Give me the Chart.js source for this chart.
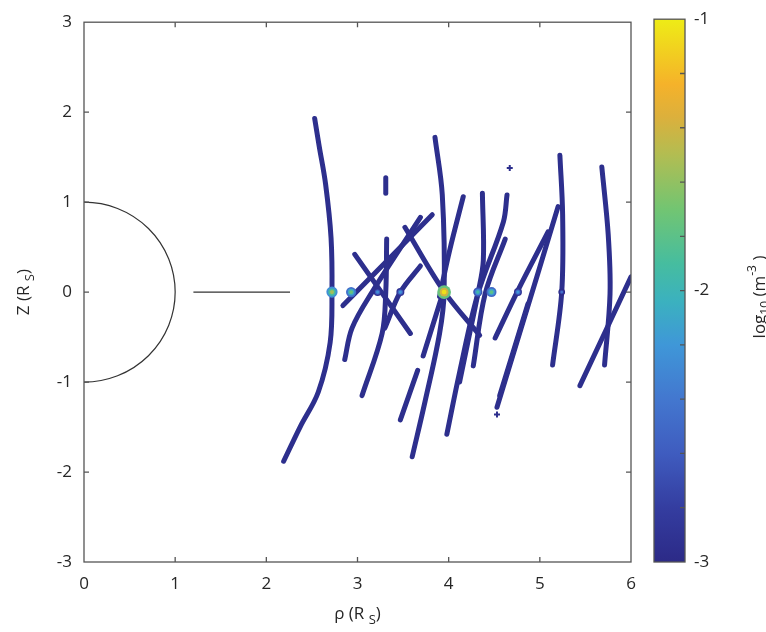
<!DOCTYPE html>
<html>
<head>
<meta charset="utf-8">
<script src="https://cdn.jsdelivr.net/npm/chart.js@4.4.0/dist/chart.umd.min.js"></script>
<style>
  body { margin: 0; background: #fff; }
  #wrap { position: relative; width: 766px; height: 632px; }
  #mainChart { position: absolute; left: 0; top: 0; }
  #cbChart { position: absolute; left: 600px; top: 0; }
</style>
</head>
<body>
<div id="wrap">
  <canvas id="mainChart" width="766" height="632"></canvas>
  <canvas id="cbChart" width="166" height="632"></canvas>
</div>
<script>
// tick labels
var xTicks = [0, 1, 2, 3, 4, 5, 6];
var yTicks = [-3, -2, -1, 0, 1, 2, 3];
var cbTicks = [-3, -2, -1];
var cbRange = [-3, -1];

// planet + ring (R_S)
var saturnRadius = 1;
var ringRho = [1.2, 2.26];

// tracks, rho and Z per track (R_S)
var trackRho = [
  [2.53, 2.58, 2.65, 2.71, 2.72, 2.70, 2.57, 2.37, 2.19],
  [3.31, 3.31],
  [3.32, 3.31, 3.27, 3.05],
  [2.97, 3.58],
  [2.84, 3.82],
  [3.69, 3.16, 2.94, 2.86],
  [3.52, 3.94, 4.34],
  [3.85, 3.93, 3.95, 3.90, 3.74, 3.60],
  [3.94, 3.72],
  [3.66, 3.47],
  [4.16, 4.01, 3.90],
  [4.37, 4.38, 4.32, 4.23, 4.12],
  [4.64, 4.60, 4.32, 4.12, 3.98],
  [4.62, 4.40, 4.27],
  [5.09, 4.76, 4.51],
  [5.20, 4.97, 4.53],
  [5.22, 5.25, 5.24, 5.14],
  [5.68, 5.75, 5.77, 5.71],
  [6.00, 5.44],
  [4.87, 4.56],
  [3.69, 3.47, 3.30]
];
var trackZ = [
  [1.93, 1.62, 1.20, 0.60, 0.0, -0.56, -1.11, -1.50, -1.88],
  [1.27, 1.10],
  [0.59, 0.0, -0.46, -1.15],
  [0.42, -0.46],
  [-0.15, 0.86],
  [0.83, 0.0, -0.40, -0.75],
  [0.72, 0.02, -0.48],
  [1.72, 1.08, 0.0, -0.46, -1.22, -1.83],
  [0.0, -0.71],
  [-0.87, -1.42],
  [1.06, 0.46, -0.05],
  [1.10, 0.35, -0.02, -0.46, -1.00],
  [1.08, 0.78, -0.02, -0.89, -1.58],
  [0.59, -0.02, -0.82],
  [0.67, 0.02, -0.51],
  [0.95, 0.18, -1.28],
  [1.52, 0.86, 0.0, -0.81],
  [1.39, 0.64, -0.02, -0.81],
  [0.17, -1.04],
  [-0.13, -1.15],
  [0.29, 0.0, -0.40]
];

// stray single points
var strayRho = [4.67, 4.53];
var strayZ = [1.38, -1.36];

// bright spots at the equator, log10 density
var spotRho = [2.72, 2.93, 3.22, 3.47, 3.95, 4.32, 4.47, 4.76, 5.24];
var spotZ = [0.0, 0.0, 0.0, 0.0, 0.0, 0.0, 0.0, 0.0, 0.0];
var spotLogN = [-1.55, -1.75, -2.25, -2.2, -1.05, -1.95, -1.8, -2.2, -2.45];

var FONT = "'Open Sans', 'Noto Sans', sans-serif";
var NAVY = '#2d2f8d';
var AXIS = '#555555';

// parula-ish colormap (as it shows in the picture)
var cmapStops = [
  [0.00, 44, 42, 135],
  [0.10, 52, 61, 160],
  [0.20, 63, 92, 191],
  [0.30, 67, 119, 207],
  [0.40, 63, 151, 216],
  [0.48, 59, 177, 191],
  [0.55, 70, 189, 159],
  [0.65, 114, 197, 114],
  [0.75, 178, 189, 82],
  [0.82, 220, 176, 60],
  [0.88, 245, 178, 42],
  [1.00, 238, 236, 22]
];
function cmap(v) {
  var t = (v - cbRange[0]) / (cbRange[1] - cbRange[0]);
  t = Math.max(0, Math.min(1, t));
  for (var i = 1; i < cmapStops.length; i++) {
    if (t <= cmapStops[i][0]) {
      var a = cmapStops[i - 1], b = cmapStops[i];
      var f = (t - a[0]) / (b[0] - a[0]);
      return 'rgb(' + Math.round(a[1] + f * (b[1] - a[1])) + ',' +
        Math.round(a[2] + f * (b[2] - a[2])) + ',' +
        Math.round(a[3] + f * (b[3] - a[3])) + ')';
    }
  }
  return 'rgb(238,236,22)';
}

function drawRich(ctx, parts, x, y, rot) {
  ctx.save();
  ctx.translate(x, y);
  if (rot) ctx.rotate(rot);
  ctx.textBaseline = 'middle';
  ctx.fillStyle = '#262626';
  var w = 0;
  parts.forEach(function(p) { ctx.font = p.size + 'px ' + FONT; p.w = ctx.measureText(p.t).width; w += p.w; });
  var cx = -w / 2;
  parts.forEach(function(p) {
    ctx.font = p.size + 'px ' + FONT;
    ctx.fillText(p.t, cx, p.dy || 0);
    cx += p.w;
  });
  ctx.restore();
}

// box, inward ticks, planet, axis titles
var mainDecor = {
  id: 'mainDecor',
  beforeDatasetsDraw: function(chart) {
    var ctx = chart.ctx, x = chart.scales.x, y = chart.scales.y;
    var cx = x.getPixelForValue(0), cy = y.getPixelForValue(0);
    var rx = x.getPixelForValue(saturnRadius) - cx;
    var ry = cy - y.getPixelForValue(saturnRadius);
    ctx.save();
    ctx.strokeStyle = '#333';
    ctx.lineWidth = 1.2;
    ctx.beginPath();
    ctx.ellipse(cx, cy, rx, ry, 0, -Math.PI / 2, Math.PI / 2);
    ctx.stroke();
    ctx.restore();
  },
  afterDraw: function(chart) {
    var ctx = chart.ctx, a = chart.chartArea, x = chart.scales.x, y = chart.scales.y;
    ctx.save();
    ctx.strokeStyle = AXIS;
    ctx.lineWidth = 1.3;
    ctx.strokeRect(a.left, a.top, a.right - a.left, a.bottom - a.top);
    ctx.beginPath();
    xTicks.slice(1, -1).forEach(function(v) {
      var px = x.getPixelForValue(v);
      ctx.moveTo(px, a.bottom); ctx.lineTo(px, a.bottom - 5);
      ctx.moveTo(px, a.top); ctx.lineTo(px, a.top + 5);
    });
    yTicks.slice(1, -1).forEach(function(v) {
      var py = y.getPixelForValue(v);
      ctx.moveTo(a.left, py); ctx.lineTo(a.left + 5, py);
      ctx.moveTo(a.right, py); ctx.lineTo(a.right - 5, py);
    });
    ctx.stroke();
    ctx.restore();
    drawRich(ctx, [{t: 'ρ (R ', size: 17}, {t: 'S', size: 13, dy: 6}, {t: ')', size: 17}],
      (a.left + a.right) / 2, 614, 0);
    drawRich(ctx, [{t: 'Z (R ', size: 17}, {t: 'S', size: 13, dy: 6}, {t: ')', size: 17}],
      24, (a.top + a.bottom) / 2, -Math.PI / 2);
  }
};

var datasets = [];
trackRho.forEach(function(rhos, i) {
  datasets.push({
    data: rhos.map(function(r, j) { return {x: r, y: trackZ[i][j]}; }),
    showLine: true,
    borderColor: NAVY,
    borderWidth: 5,
    borderCapStyle: 'round',
    borderJoinStyle: 'round',
    tension: 0.35,
    pointRadius: 0,
    order: 3
  });
});
datasets.push({
  data: strayRho.map(function(r, j) { return {x: r, y: strayZ[j]}; }),
  pointStyle: 'cross', pointRadius: 3, pointBorderWidth: 2,
  borderColor: NAVY, backgroundColor: NAVY, order: 3
});
datasets.push({
  data: ringRho.map(function(r) { return {x: r, y: 0}; }),
  showLine: true, borderColor: '#333', borderWidth: 1.2, pointRadius: 0, order: 3
});
// glow around the bright spots: outer, middle, core
[[0.7, 2, 5, 2], [0.35, 1.5, 3, 1], [0, 1, 1.5, 0]].forEach(function(L) {
  datasets.push({
    data: spotRho.map(function(r, j) { return {x: r, y: spotZ[j]}; }),
    pointRadius: spotLogN.map(function(v) { return L[1] + L[2] * (v - cbRange[0]) / 2; }),
    pointBackgroundColor: spotLogN.map(function(v) { return cmap(v - L[0]); }),
    pointBorderWidth: 0,
    order: L[3]
  });
});

new Chart(document.getElementById('mainChart'), {
  type: 'scatter',
  data: { datasets: datasets },
  options: {
    responsive: false,
    animation: false,
    layout: { padding: { left: 0, top: 15, right: 135, bottom: 0 } },
    plugins: { legend: { display: false }, tooltip: { enabled: false } },
    scales: {
      x: {
        type: 'linear', min: 0, max: 6,
        grid: { display: false, drawTicks: false },
        border: { display: false },
        afterBuildTicks: function(s) { s.ticks = xTicks.map(function(v) { return {value: v}; }); },
        afterFit: function(s) { s.height = 70; },
        ticks: { padding: 12, maxRotation: 0, color: '#262626', font: { family: FONT, size: 17 },
                 callback: function(v) { return String(v); } }
      },
      y: {
        type: 'linear', min: -3, max: 3,
        grid: { display: false, drawTicks: false },
        border: { display: false },
        afterBuildTicks: function(s) { s.ticks = yTicks.map(function(v) { return {value: v}; }); },
        afterFit: function(s) { s.width = 84; },
        ticks: { padding: 12, color: '#262626', font: { family: FONT, size: 17 },
                 callback: function(v) { return String(v); } }
      }
    }
  },
  plugins: [mainDecor]
});

// colorbar
var cbDecor = {
  id: 'cbDecor',
  afterDraw: function(chart) {
    var ctx = chart.ctx, a = chart.chartArea, y = chart.scales.y;
    ctx.save();
    ctx.strokeStyle = AXIS;
    ctx.lineWidth = 1.3;
    ctx.strokeRect(a.left, a.top, a.right - a.left, a.bottom - a.top);
    ctx.beginPath();
    for (var v = cbRange[0] + 0.2; v < cbRange[1] - 0.01; v += 0.2) {
      var py = y.getPixelForValue(v);
      ctx.moveTo(a.right, py); ctx.lineTo(a.right - 5, py);
    }
    ctx.stroke();
    ctx.restore();
    drawRich(ctx, [{t: 'log', size: 17}, {t: '10', size: 12, dy: 6}, {t: ' (m', size: 17},
      {t: '-3', size: 12, dy: -7}, {t: ' )', size: 17}], 160, 297, -Math.PI / 2);
  }
};

new Chart(document.getElementById('cbChart'), {
  type: 'bar',
  data: {
    labels: ['n'],
    datasets: [{
      data: [[cbRange[0], cbRange[1]]],
      barPercentage: 1,
      categoryPercentage: 1,
      borderWidth: 0,
      backgroundColor: function(c) {
        var a = c.chart.chartArea;
        if (!a) return NAVY;
        var g = c.chart.ctx.createLinearGradient(0, a.bottom, 0, a.top);
        cmapStops.forEach(function(s) { g.addColorStop(s[0], 'rgb(' + s[1] + ',' + s[2] + ',' + s[3] + ')'); });
        return g;
      }
    }]
  },
  options: {
    responsive: false,
    animation: false,
    layout: { padding: { left: 54, top: 14, right: 0, bottom: 70 } },
    plugins: { legend: { display: false }, tooltip: { enabled: false } },
    scales: {
      x: { display: false },
      y: {
        position: 'right', min: cbRange[0], max: cbRange[1],
        grid: { display: false, drawTicks: false },
        border: { display: false },
        afterBuildTicks: function(s) { s.ticks = cbTicks.map(function(v) { return {value: v}; }); },
        afterFit: function(s) { s.width = 81; },
        ticks: { padding: 9, color: '#262626', font: { family: FONT, size: 17 },
                 callback: function(v) { return String(v); } }
      }
    }
  },
  plugins: [cbDecor]
});
</script>
</body>
</html>
